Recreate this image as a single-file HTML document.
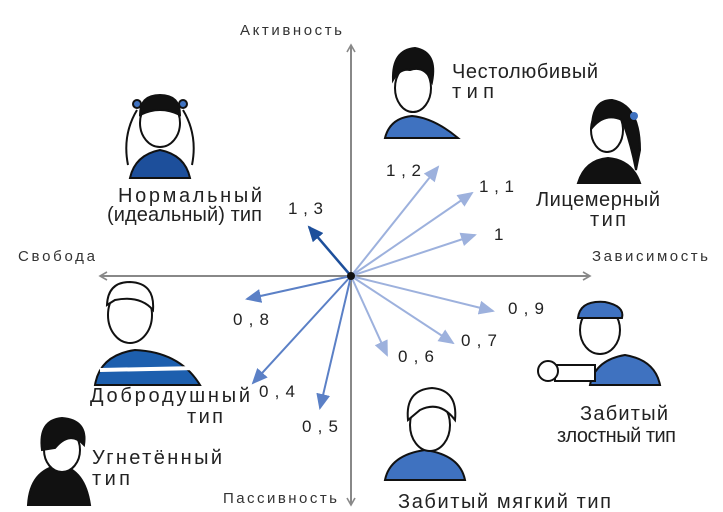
<!DOCTYPE html>
<html><head><meta charset="utf-8"><style>
html,body{margin:0;padding:0;background:#fff}
svg{display:block}
.ax{font-family:"Liberation Sans",sans-serif;font-size:15px;fill:#333}
.h{font-family:"Liberation Sans",sans-serif;font-size:20px;fill:#222}
.n{font-family:"Liberation Sans",sans-serif;font-size:17px;fill:#222}
</style></head><body>
<svg width="723" height="512" viewBox="0 0 723 512" xmlns="http://www.w3.org/2000/svg">
<defs>
<marker id="ag" markerWidth="10" markerHeight="10" refX="8" refY="5" orient="auto" markerUnits="userSpaceOnUse"><path d="M1,1 L8,5 L1,9" fill="none" stroke="#888" stroke-width="1.6"/></marker>
<marker id="al" markerWidth="16" markerHeight="14" refX="14" refY="7" orient="auto" markerUnits="userSpaceOnUse"><path d="M0,0 L16,7 L0,14 Z" fill="#9db1dd"/></marker>
<marker id="am" markerWidth="16" markerHeight="14" refX="14" refY="7" orient="auto" markerUnits="userSpaceOnUse"><path d="M0,0 L16,7 L0,14 Z" fill="#5b80c6"/></marker>
<marker id="ad" markerWidth="16" markerHeight="14" refX="14" refY="7" orient="auto" markerUnits="userSpaceOnUse"><path d="M0,0 L16,7 L0,14 Z" fill="#1d4f9b"/></marker>
</defs>
<g stroke="#888" stroke-width="2">
<line x1="351" y1="505" x2="351" y2="45" marker-end="url(#ag)"/>
<line x1="351" y1="276" x2="351" y2="505" marker-end="url(#ag)"/>
<line x1="351" y1="276" x2="590" y2="276" marker-end="url(#ag)"/>
<line x1="351" y1="276" x2="100" y2="276" marker-end="url(#ag)"/>
</g>
<text class="ax" x="240" y="35" textLength="102">Активность</text>
<text class="ax" x="18" y="261" textLength="77">Свобода</text>
<text class="ax" x="592" y="261" textLength="116">Зависимость</text>
<text class="ax" x="223" y="503" textLength="114">Пассивность</text>
<g stroke-width="2">
<line x1="351" y1="276" x2="438" y2="167" stroke="#9db1dd" marker-end="url(#al)"/>
<line x1="351" y1="276" x2="472" y2="193" stroke="#9db1dd" marker-end="url(#al)"/>
<line x1="351" y1="276" x2="475" y2="235" stroke="#9db1dd" marker-end="url(#al)"/>
<line x1="351" y1="276" x2="493" y2="311" stroke="#9db1dd" marker-end="url(#al)"/>
<line x1="351" y1="276" x2="453" y2="343" stroke="#9db1dd" marker-end="url(#al)"/>
<line x1="351" y1="276" x2="387" y2="355" stroke="#9db1dd" marker-end="url(#al)"/>
<line x1="351" y1="276" x2="247" y2="299" stroke="#5b80c6" marker-end="url(#am)"/>
<line x1="351" y1="276" x2="253" y2="383" stroke="#5b80c6" marker-end="url(#am)"/>
<line x1="351" y1="276" x2="320" y2="408" stroke="#5b80c6" marker-end="url(#am)"/>
<line x1="351" y1="276" x2="309" y2="227" stroke="#1d4f9b" stroke-width="2.5" marker-end="url(#ad)"/>
</g>
<circle cx="351" cy="276" r="4" fill="#111"/>
<text class="n" x="386" y="176" textLength="35">1,2</text>
<text class="n" x="479" y="192" textLength="35">1,1</text>
<text class="n" x="494" y="240">1</text>
<text class="n" x="288" y="214" textLength="35">1,3</text>
<text class="n" x="508" y="314" textLength="36">0,9</text>
<text class="n" x="461" y="346" textLength="36">0,7</text>
<text class="n" x="398" y="362" textLength="36">0,6</text>
<text class="n" x="233" y="325" textLength="36">0,8</text>
<text class="n" x="259" y="397" textLength="36">0,4</text>
<text class="n" x="302" y="432" textLength="36">0,5</text>
<text class="h" x="452" y="78" textLength="146">Честолюбивый</text>
<text class="h" x="452" y="98" textLength="42">тип</text>
<text class="h" x="118" y="202" textLength="144">Нормальный</text>
<text class="h" x="107" y="221" textLength="155">(идеальный) тип</text>
<text class="h" x="536" y="206" textLength="124">Лицемерный</text>
<text class="h" x="590" y="226" textLength="36">тип</text>
<text class="h" x="90" y="402" textLength="160">Добродушный</text>
<text class="h" x="187" y="423" textLength="36">тип</text>
<text class="h" x="92" y="464" textLength="130">Угнетённый</text>
<text class="h" x="92" y="485" textLength="38">тип</text>
<text class="h" x="398" y="508" textLength="213">Забитый мягкий тип</text>
<text class="h" x="580" y="420" textLength="88">Забитый</text>
<text class="h" x="557" y="442" textLength="119">злостный тип</text>
<g stroke="#111" stroke-width="2" fill="#fff">
<path d="M385,138 Q390,118 412,116 Q434,118 458,138 Z" fill="#3f72c0"/>
<ellipse cx="413" cy="88" rx="18" ry="24"/>
<path d="M393,80 Q392,50 415,48 Q438,52 432,82 Q425,65 410,70 Q400,68 393,80Z" fill="#111"/>
<path d="M578,183 Q585,160 608,158 Q632,160 640,183 Z" fill="#111"/>
<ellipse cx="607" cy="130" rx="16" ry="22"/>
<path d="M592,128 Q592,100 612,100 Q640,105 640,150 L636,170 Q630,140 622,120 Q605,112 592,128Z" fill="#111"/>
<circle cx="634" cy="116" r="4" fill="#3f72c0" stroke="none"/>
<path d="M130,178 Q135,155 160,150 Q185,155 190,178 Z" fill="#1d4f9b"/>
<ellipse cx="160" cy="123" rx="20" ry="24"/>
<path d="M140,115 Q140,95 160,95 Q180,95 180,115 Q160,105 140,115Z" fill="#111"/>
<path d="M137,110 Q122,135 128,165" fill="none"/>
<path d="M183,110 Q198,135 192,165" fill="none"/>
<circle cx="137" cy="104" r="4" fill="#3f72c0"/><circle cx="183" cy="104" r="4" fill="#3f72c0"/>
<path d="M95,385 Q100,355 135,350 Q180,352 200,385 Z" fill="#1d5fae"/>
<path d="M100,370 L198,368" stroke="#fff" stroke-width="4"/>
<ellipse cx="130" cy="315" rx="22" ry="28"/>
<path d="M107,305 Q108,282 130,282 Q155,283 153,310 Q140,295 115,300Z" fill="#fff"/>
<path d="M28,505 Q30,470 60,465 Q85,470 90,505 Z" fill="#111"/>
<ellipse cx="62" cy="450" rx="18" ry="22"/>
<path d="M42,450 Q38,420 62,418 Q88,420 84,445 Q70,430 55,448Z" fill="#111"/>
<path d="M385,480 Q390,455 425,450 Q460,455 465,480 Z" fill="#3f72c0"/>
<ellipse cx="430" cy="425" rx="20" ry="26"/>
<path d="M408,420 Q405,390 432,388 Q458,390 455,420 Q440,400 420,410Z" fill="#fff"/>
<path d="M590,385 Q595,360 625,355 Q655,360 660,385 Z" fill="#3f72c0"/>
<rect x="555" y="365" width="40" height="16" fill="#fff"/>
<circle cx="548" cy="371" r="10"/>
<ellipse cx="600" cy="330" rx="20" ry="24"/>
<path d="M578,318 Q580,300 605,302 Q625,306 622,318 Z" fill="#3f72c0"/>
</g>
</svg>
</body></html>
